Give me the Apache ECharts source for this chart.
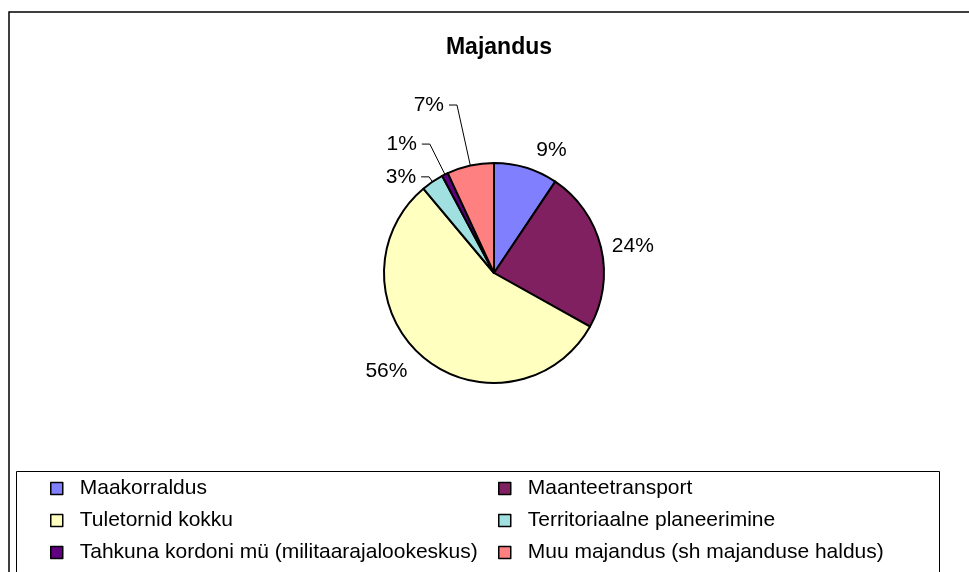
<!DOCTYPE html>
<html>
<head>
<meta charset="utf-8">
<script src="https://cdn.jsdelivr.net/npm/echarts@6/dist/echarts.min.js"></script>
<style>
  html, body { margin: 0; padding: 0; background: #fff; }
  #chart { width: 969px; height: 572px; }
</style>
</head>
<body>
<div id="chart"></div>
<script>
// data (clockwise from 12 o'clock)
var categories = [
  'Maakorraldus',
  'Maanteetransport',
  'Tuletornid kokku',
  'Territoriaalne planeerimine',
  'Tahkuna kordoni mü (militaarajalookeskus)',
  'Muu majandus (sh majanduse haldus)'
];
var shares = [9.4, 23.7, 55.8, 3.3, 0.9, 6.9];
var colors = ['#8080FF', '#802060', '#FFFFC0', '#A0E0E0', '#600080', '#FF8080'];
// label leader lines only on the thin slices
var leaderLen = [18, 6, 18, 6, 34, 62];
var leaderLen2 = [0, 0, 0, 8, 8, 8];
var showLeader = [false, false, false, true, true, true];

var pieData = categories.map(function (name, i) {
  return {
    name: name,
    value: shares[i],
    itemStyle: { color: colors[i] },
    labelLine: { show: showLeader[i], length: leaderLen[i], length2: leaderLen2[i] }
  };
});

var chart = echarts.init(document.getElementById('chart'));
var font = 'Liberation Sans, Arial, sans-serif';

var legendCommon = {
  orient: 'vertical',
  padding: 0,
  itemWidth: 12,
  itemHeight: 12,
  itemGap: 11,
  icon: 'rect',
  itemStyle: { borderColor: '#000', borderWidth: 1.5 },
  textStyle: { fontFamily: font, fontSize: 21, color: '#000', padding: [0, 0, 0, 12] },
  selectedMode: false
};

chart.setOption({
  backgroundColor: '#fff',
  animation: false,
  title: {
    text: 'Majandus',
    left: 494,
    top: 31,
    textAlign: 'center',
    textStyle: { fontFamily: font, fontSize: 23, fontWeight: 'bold', color: '#000' }
  },
  graphic: [
    { type: 'rect', shape: { x: 9, y: 12, width: 980, height: 600 },
      style: { fill: null, stroke: '#000', lineWidth: 1.5 }, silent: true },
    { type: 'rect', shape: { x: 16.5, y: 471.5, width: 923, height: 120 },
      style: { fill: null, stroke: '#000', lineWidth: 1 }, silent: true }
  ],
  legend: [
    Object.assign({}, legendCommon, {
      left: 50, top: 478,
      data: [categories[0], categories[2], categories[4]]
    }),
    Object.assign({}, legendCommon, {
      left: 498, top: 478,
      data: [categories[1], categories[3], categories[5]]
    })
  ],
  series: [{
    type: 'pie',
    center: [494, 273],
    radius: 110,
    startAngle: 90,
    clockwise: true,
    avoidLabelOverlap: true,
    data: pieData,
    itemStyle: { borderColor: '#000', borderWidth: 2 },
    label: {
      position: 'outside',
      fontFamily: font,
      fontSize: 21,
      color: '#000',
      formatter: function (p) { return Math.round(p.percent) + '%'; }
    },
    labelLine: { lineStyle: { color: '#000', width: 1 }, smooth: false }
  }]
});
</script>
</body>
</html>
